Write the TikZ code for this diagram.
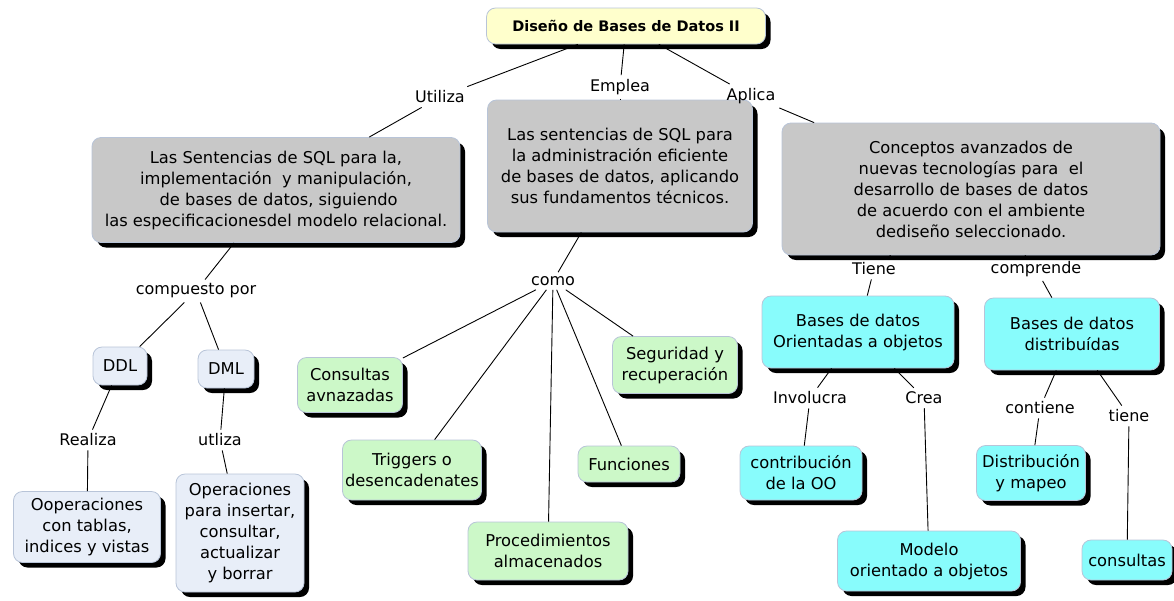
\documentclass[tikz,border=0pt]{standalone}
\usepackage{fontspec}
\setmainfont{DejaVu Sans}
\usetikzlibrary{shadows}
\definecolor{titlefill}{HTML}{FFFFCC}
\definecolor{grayfill}{HTML}{C8C8C8}
\definecolor{bluefill}{HTML}{E8EEF8}
\definecolor{greenfill}{HTML}{CCF8C8}
\definecolor{cyanfill}{HTML}{88FCFC}
\definecolor{boxline}{HTML}{B8C4D8}
\tikzset{
  box/.style={draw=boxline, line width=0.8pt, rounded corners=9pt, align=center,
    font=\fontsize{16.3}{21}\selectfont, text=black, inner sep=2pt,
    drop shadow={shadow xshift=5pt, shadow yshift=-5pt, fill=black, opacity=1}},
  titlebox/.style={box, fill=titlefill, font=\fontsize{14.5}{18}\selectfont\bfseries, minimum width=279pt, minimum height=36pt},
  graybox/.style={box, fill=grayfill},
  bluebox/.style={box, fill=bluefill},
  greenbox/.style={box, fill=greenfill},
  cyanbox/.style={box, fill=cyanfill},
  lab/.style={font=\fontsize{16}{18}\selectfont, inner sep=4pt},
  conn/.style={draw=black, line width=0.9pt},
}
\begin{document}
\begin{tikzpicture}[x=1pt,y=-1pt]
\useasboundingbox (0,0) rectangle (1174,600);
% nodes
\node[titlebox] (title) at (626,26) {Diseño de Bases de Datos II};
\node[graybox, minimum width=368pt, minimum height=105pt] (g1) at (276,190)
  {Las Sentencias de SQL para la,\\implementación\ \ y manipulación,\\\ de bases de datos, siguiendo\\las especificacionesdel modelo relacional.};
\node[graybox, minimum width=265pt, minimum height=132pt] (g2) at (620,166)
  {Las sentencias de SQL para\\la administración eficiente\\de bases de datos, aplicando\\sus fundamentos técnicos.};
\node[graybox, minimum width=378pt, minimum height=132pt] (g3) at (971,189)
  {Conceptos avanzados de\\nuevas tecnologías para\ \ el\\desarrollo de bases de datos\\de acuerdo con el ambiente\\dediseño seleccionado.};
% labels
\node[lab] (utiliza) at (440,97) {Utiliza};
\node[lab] (emplea) at (620,87) {Emplea};
\node[lab] (aplica) at (751,96) {Aplica};
\node[lab] (comp) at (196,291) {compuesto por};
\node[lab] (como) at (553,281) {como};
\node[lab] (tiene1) at (874,269) {Tiene};
\node[lab] (compr) at (1036,269) {comprende};
\node[lab] (realiza) at (88,440) {Realiza};
\node[lab] (utliza) at (220,440) {utliza};
\node[lab] (involucra) at (810,398) {Involucra};
\node[lab] (crea) at (924,398) {Crea};
\node[lab] (contiene) at (1040,408) {contiene};
\node[lab] (tiene2) at (1129,416) {tiene};
% second level
\node[bluebox, minimum width=54pt, minimum height=38pt] (ddl) at (120,366) {DDL};
\node[bluebox, minimum width=56pt, minimum height=38pt] (dml) at (226,369) {DML};
\node[bluebox, minimum width=147pt, minimum height=71pt] (oop) at (87,527) {Ooperaciones\\con tablas,\\indices y vistas};
\node[bluebox, minimum width=128pt, minimum height=118pt] (ops) at (240,533) {Operaciones\\para insertar,\\consultar,\\actualizar\\y borrar};
\node[greenbox, minimum width=105pt, minimum height=55pt] (cons) at (350,385) {Consultas\\avnazadas};
\node[greenbox, minimum width=139pt, minimum height=60pt] (trig) at (412,470) {Triggers o\\desencadenates};
\node[greenbox, minimum width=160pt, minimum height=58pt] (proc) at (548,551) {Procedimientos\\almacenados};
\node[greenbox, minimum width=102pt, minimum height=36pt] (func) at (629,464) {Funciones};
\node[greenbox, minimum width=125pt, minimum height=57pt] (seg) at (675,365) {Seguridad y\\recuperación};
\node[cyanbox, minimum width=192pt, minimum height=72pt] (bdoo) at (858,332) {Bases de datos\\Orientadas a objetos};
\node[cyanbox, minimum width=175pt, minimum height=72pt] (bdd) at (1072,334) {Bases de datos\\distribuídas};
\node[cyanbox, minimum width=122pt, minimum height=54pt] (contr) at (801,473) {contribución\\de la OO};
\node[cyanbox, minimum width=183pt, minimum height=60pt] (modelo) at (929,561) {Modelo\\orientado a objetos};
\node[cyanbox, minimum width=109pt, minimum height=55pt] (distr) at (1031,473) {Distribución\\y mapeo};
\node[cyanbox, minimum width=90pt, minimum height=40pt] (consq) at (1127,560) {consultas};
% connectors
\draw[conn] (title) -- (utiliza);
\draw[conn] (utiliza) -- (g1);
\draw[conn] (title) -- (emplea);
\draw[conn] (emplea) -- (g2);
\draw[conn] (title) -- (aplica);
\draw[conn] (aplica) -- (g3);
\draw[conn] (g1) -- (comp);
\draw[conn] (comp) -- (ddl);
\draw[conn] (comp) -- (dml);
\draw[conn] (ddl) -- (realiza);
\draw[conn] (realiza) -- (oop);
\draw[conn] (dml) -- (utliza);
\draw[conn] (utliza) -- (ops);
\draw[conn] (g2) -- (como);
\draw[conn] (como) -- (cons);
\draw[conn] (como) -- (trig);
\draw[conn] (como) -- (proc);
\draw[conn] (como) -- (func);
\draw[conn] (como) -- (seg);
\draw[conn] (g3) -- (tiene1);
\draw[conn] (tiene1) -- (bdoo);
\draw[conn] (g3) -- (compr);
\draw[conn] (compr) -- (bdd);
\draw[conn] (bdoo) -- (involucra);
\draw[conn] (involucra) -- (contr);
\draw[conn] (bdoo) -- (crea);
\draw[conn] (crea) -- (modelo);
\draw[conn] (bdd) -- (contiene);
\draw[conn] (contiene) -- (distr);
\draw[conn] (bdd) -- (tiene2);
\draw[conn] (tiene2) -- (consq);
\end{tikzpicture}
\end{document}
